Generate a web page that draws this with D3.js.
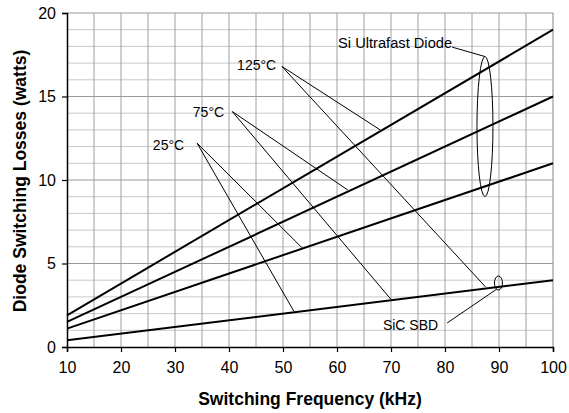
<!DOCTYPE html>
<html>
<head>
<meta charset="utf-8">
<script src="https://cdn.jsdelivr.net/npm/d3@7"></script>
<style>
  body { margin: 0; background: #fff; }
  text { font-family: "Liberation Sans", Arial, sans-serif; fill: #000; }
</style>
</head>
<body>
<svg id="chart" width="569" height="413"></svg>
<script>
// switching frequency endpoints (kHz)
const freq = [10, 100];
// losses (watts) at those endpoints
const sicSbd = [0.4, 4.0];
const si25 = [1.1, 11.0];
const si75 = [1.5, 15.0];
const si125 = [1.9, 19.0];

const xTicks = [10, 20, 30, 40, 50, 60, 70, 80, 90, 100];
const yTicks = [0, 5, 10, 15, 20];

// temperature labels and leader lines: [f, W] in data units
const tempLabels = [
  { text: '125°C', at: [41.5, 16.6], from: [49.8, 16.8], to: [[68, 13.0], [87.5, 3.6]] },
  { text: '75°C', at: [33.3, 13.8], from: [40.6, 14.1], to: [[62, 9.4], [70, 2.85]] },
  { text: '25°C', at: [25.9, 11.8], from: [34.1, 12.2], to: [[53.5, 5.95], [52, 2.15]] }
];

const margin = { left: 67, right: 16, top: 13, bottom: 66 };
const width = 569, height = 413;

const svg = d3.select('#chart');

const x = d3.scaleLinear().domain([10, 100]).range([margin.left, width - margin.right]);
const y = d3.scaleLinear().domain([0, 20]).range([height - margin.bottom, margin.top]);

// grid
const grid = svg.append('g');
grid.selectAll('line.hy')
  .data(d3.range(1, 20))
  .join('line')
  .attr('x1', x(10)).attr('x2', x(100))
  .attr('y1', d => y(d)).attr('y2', d => y(d))
  .attr('stroke', d => d % 5 == 0 ? '#9a9a9a' : '#c8c8c8')
  .attr('stroke-width', 1);
grid.selectAll('line.vx')
  .data(d3.range(15, 100, 5))
  .join('line')
  .attr('x1', d => x(d)).attr('x2', d => x(d))
  .attr('y1', y(0)).attr('y2', y(20))
  .attr('stroke', '#a0a0a0')
  .attr('stroke-width', 1);
// top / right border
svg.append('path')
  .attr('d', `M${x(10)},${y(20)}H${x(100)}V${y(0)}`)
  .attr('fill', 'none')
  .attr('stroke', '#999')
  .attr('stroke-width', 1.2);

// axes
const xAxis = svg.append('g')
  .attr('transform', `translate(0,${y(0)})`)
  .call(d3.axisBottom(x).tickValues(xTicks).tickSize(5).tickPadding(10));
const yAxis = svg.append('g')
  .attr('transform', `translate(${x(10)},0)`)
  .call(d3.axisLeft(y).tickValues(yTicks).tickSize(5).tickPadding(6));
[xAxis, yAxis].forEach(a => {
  a.select('.domain').attr('stroke', '#000').attr('stroke-width', 1.5);
  a.selectAll('.tick line').attr('stroke', '#000').attr('stroke-width', 1.2);
  a.selectAll('.tick text')
    .attr('font-size', 16)
    .attr('font-family', '"Liberation Sans", Arial, sans-serif');
});

// data lines
const line = d3.line().x(d => x(d[0])).y(d => y(d[1]));
[sicSbd, si25, si75, si125].forEach(series => {
  svg.append('path')
    .datum(freq.map((f, i) => [f, series[i]]))
    .attr('d', line)
    .attr('fill', 'none')
    .attr('stroke', '#000')
    .attr('stroke-width', 2);
});

// temperature annotations
tempLabels.forEach(t => {
  svg.append('text')
    .attr('x', x(t.at[0])).attr('y', y(t.at[1]))
    .attr('font-size', 14)
    .text(t.text);
  t.to.forEach(p => {
    svg.append('line')
      .attr('x1', x(t.from[0])).attr('y1', y(t.from[1]))
      .attr('x2', x(p[0])).attr('y2', y(p[1]))
      .attr('stroke', '#000').attr('stroke-width', 1);
  });
});

// Si ultrafast diode group
svg.append('ellipse')
  .attr('cx', x(87.4)).attr('cy', y(13.2))
  .attr('rx', 8).attr('ry', 70)
  .attr('fill', 'none').attr('stroke', '#000').attr('stroke-width', 1);
svg.append('text')
  .attr('x', x(60.2)).attr('y', y(17.9))
  .attr('font-size', 14)
  .attr('textLength', 114).attr('lengthAdjust', 'spacingAndGlyphs')
  .text('Si Ultrafast Diode');
svg.append('line')
  .attr('x1', x(81.3)).attr('y1', y(17.96))
  .attr('x2', x(87.4)).attr('y2', y(13.2) - 70)
  .attr('stroke', '#000').attr('stroke-width', 1);

// SiC SBD
svg.append('ellipse')
  .attr('cx', x(89.9)).attr('cy', y(3.83))
  .attr('rx', 4).attr('ry', 7)
  .attr('fill', 'none').attr('stroke', '#000').attr('stroke-width', 1);
svg.append('text')
  .attr('x', x(68.5)).attr('y', y(1.0))
  .attr('font-size', 14)
  .text('SiC SBD');
svg.append('line')
  .attr('x1', x(80.4)).attr('y1', y(1.44))
  .attr('x2', x(89.6)).attr('y2', y(3.47))
  .attr('stroke', '#000').attr('stroke-width', 1);

// axis titles
svg.append('text')
  .attr('x', 310).attr('y', 405)
  .attr('text-anchor', 'middle')
  .attr('font-size', 17.5).attr('font-weight', 'bold')
  .text('Switching Frequency (kHz)');
svg.append('text')
  .attr('transform', 'translate(26,181) rotate(-90)')
  .attr('text-anchor', 'middle')
  .attr('font-size', 17.5).attr('font-weight', 'bold')
  .text('Diode Switching Losses (watts)');
</script>
</body>
</html>
